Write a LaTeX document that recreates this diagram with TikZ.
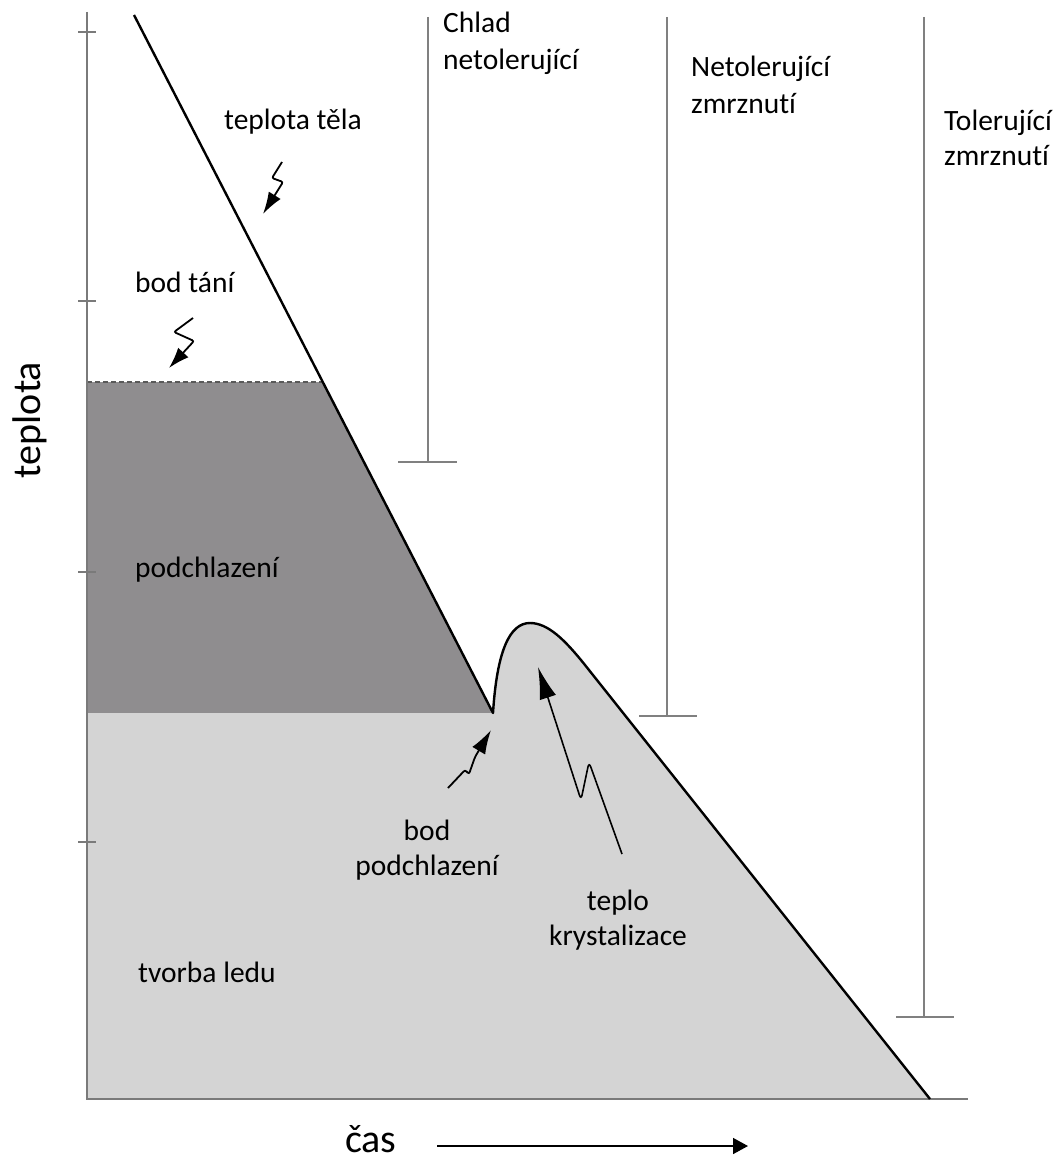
\documentclass[tikz,border=0pt]{standalone}
\usepackage{fontspec}
\setmainfont[RawFeature={-liga}]{Carlito}
\usetikzlibrary{arrows.meta}
\definecolor{darkfill}{HTML}{8F8D8F}
\definecolor{lightfill}{HTML}{D4D4D4}
\definecolor{axisgrey}{HTML}{7A7A7A}
\definecolor{bargrey}{HTML}{808080}
\begin{document}
\begin{tikzpicture}[x=1pt,y=-1pt,
  lab/.style={font=\fontsize{29.5}{36}\selectfont, inner sep=0pt, anchor=base west},
  labc/.style={lab, anchor=base},
  big/.style={font=\fontsize{40}{48}\selectfont, inner sep=0pt},
  bar/.style={draw=bargrey, line width=2pt},
  tickmark/.style={draw=axisgrey, line width=1.6pt},
  squig/.style={line width=1.8pt, rounded corners=2pt},
]
\useasboundingbox (0,0) rectangle (1061,1164);
\fill[white] (0,0) rectangle (1061,1164);

% key points
\coordinate (top) at (134,15);
\coordinate (melt) at (322.8,382);
\coordinate (valley) at (493,713);
\coordinate (peak) at (530,623);
\coordinate (knee) at (585,665);
\coordinate (end) at (930,1099);
\coordinate (origin) at (87,1099);

% regions
\fill[darkfill] (87,382) -- (melt) -- (valley) -- (87,713) -- cycle;
\fill[lightfill] (87,713) -- (valley) .. controls (497,650) and (510,623) .. (peak)
  .. controls (548,623) and (565,640) .. (knee) -- (end) -- (origin) -- cycle;

% dashed melting line
\draw[draw=black!65, line width=1.3pt, dash pattern=on 5pt off 3pt] (87,382) -- (melt);

% axes
\coordinate (ytop) at (87,12);
\coordinate (xend) at (968,1099);
\draw[draw=axisgrey, line width=2pt] (ytop) -- (origin) -- (xend);
\foreach \yy/\nm in {32/ta,301/tb,572/tc,842/td}{
  \coordinate (\nm1) at (78,\yy);
  \coordinate (\nm2) at (96,\yy);
  \draw[tickmark] (\nm1) -- (\nm2);
}

% body temperature curve
\draw[line width=2.4pt, line join=round] (top) -- (valley) .. controls (497,650) and (510,623) .. (peak)
  .. controls (548,623) and (565,640) .. (knee) -- (end);

% tolerance bars
\coordinate (b1t) at (428,17); \coordinate (b1b) at (428,462);
\coordinate (b1l) at (398,462); \coordinate (b1r) at (457,462);
\draw[bar] (b1t) -- (b1b); \draw[bar] (b1l) -- (b1r);
\coordinate (b2t) at (667,17); \coordinate (b2b) at (667,716);
\coordinate (b2l) at (639,716); \coordinate (b2r) at (697,716);
\draw[bar] (b2t) -- (b2b); \draw[bar] (b2l) -- (b2r);
\coordinate (b3t) at (924,17); \coordinate (b3b) at (924,1017);
\coordinate (b3l) at (896,1017); \coordinate (b3r) at (954,1017);
\draw[bar] (b3t) -- (b3b); \draw[bar] (b3l) -- (b3r);

% labels
\node[lab] (chlad1) at (443,33) {Chlad};
\node[lab] (chlad2) at (443,70) {netolerující};
\node[lab] (net1) at (691,77) {Netolerující};
\node[lab] (net2) at (691,113) {zmrznutí};
\node[lab] (tol1) at (944,130) {Tolerující};
\node[lab] (tol2) at (944,165) {zmrznutí};
\node[lab] (telo) at (224,129) {teplota těla};
\node[lab] (tani) at (135,292) {bod tání};
\node[lab] (podch) at (135,577) {podchlazení};
\node[labc] (bod1) at (427,840) {bod};
\node[labc] (bod2) at (427,875) {podchlazení};
\node[labc] (tep1) at (618,910) {teplo};
\node[labc] (tep2) at (618,945) {krystalizace};
\node[lab] (led) at (138,982) {tvorba ledu};
\node[big, rotate=90, anchor=base] (yl) at (40,420) {teplota};
\node[big, anchor=base west] (xl) at (345,1152) {čas};

% time arrow
\coordinate (ta0) at (437,1146);
\coordinate (ta1) at (748,1146);
\draw[line width=1.5pt, -{Triangle[length=15pt,width=16pt]}] (ta0) -- (ta1);

% squiggle arrows
\coordinate (s1a) at (282,162); \coordinate (s1b) at (272,178);
\coordinate (s1c) at (283,182); \coordinate (s1d) at (263,214);
\draw[squig, -{Latex[length=22pt,width=14pt]}] (s1a) -- (s1b) -- (s1c) -- (s1d);

\coordinate (s2a) at (193,318); \coordinate (s2b) at (174,332);
\coordinate (s2c) at (194,341); \coordinate (s2d) at (169,368);
\draw[squig, -{Latex[length=21pt,width=14pt]}] (s2a) -- (s2b) -- (s2c) -- (s2d);

\coordinate (s3a) at (448,788); \coordinate (s3b) at (465,770);
\coordinate (s3c) at (469,774); \coordinate (s3d) at (475,757);
\coordinate (s3e) at (491,730);
\draw[squig, -{Latex[length=24pt,width=15pt]}] (s3a) -- (s3b) -- (s3c) -- (s3d) -- (s3e);

\coordinate (s4a) at (622,854); \coordinate (s4b) at (589,762);
\coordinate (s4c) at (581,800); \coordinate (s4d) at (538,667);
\draw[squig, line width=1.6pt, rounded corners=5pt, -{Latex[length=32pt,width=17pt]}] (s4a) -- (s4b) -- (s4c) -- (s4d);
\end{tikzpicture}
\end{document}
